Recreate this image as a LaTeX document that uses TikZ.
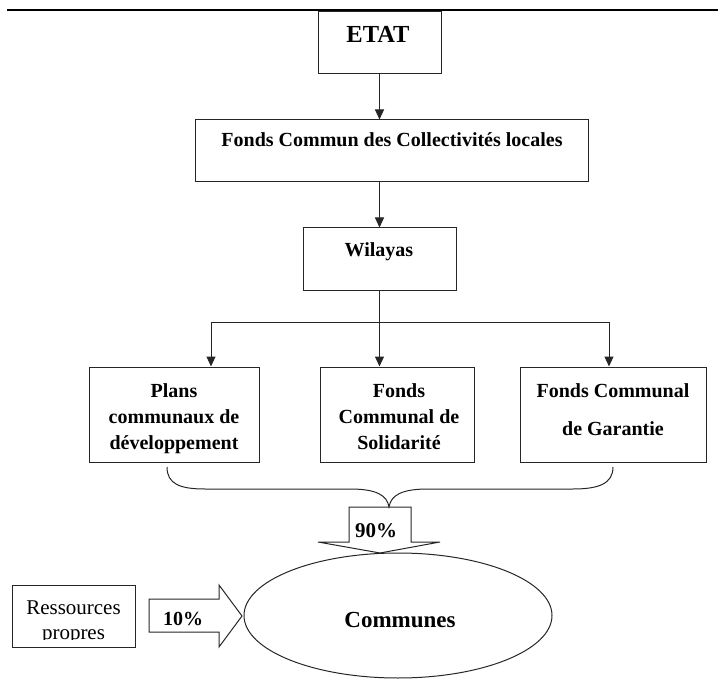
\documentclass[tikz,border=0pt]{standalone}
\usepackage{fontspec}
\setmainfont{Liberation Serif}
\usetikzlibrary{arrows.meta,calc,shapes.geometric}
\begin{document}
\begin{tikzpicture}[x=1pt,y=-1pt,
  box/.style={draw=black!85, line width=1pt, inner sep=0pt, rectangle},
  arr/.style={draw=black!85, line width=1pt, -{Triangle[width=9pt,length=10pt]}},
  plain/.style={draw=black!85, line width=1pt},
  lbl/.style={font=\fontsize{20}{26}\selectfont\bfseries, align=center, inner sep=0pt},
]
\useasboundingbox (0,0) rectangle (718,695);
\draw[line width=2pt] (7,10) coordinate (tl) -- (718,10) coordinate (tr);

% boxes
\node[box, minimum width=123pt, minimum height=62pt] (etat) at (379.5,43) {};
\node[box, minimum width=393pt, minimum height=62pt] (fccl) at (391.5,151) {};
\node[box, minimum width=153pt, minimum height=63pt] (wil) at (379.5,259.5) {};
\node[box, minimum width=170pt, minimum height=95pt] (plans) at (174,414.5) {};
\node[box, minimum width=154pt, minimum height=95pt] (fcs) at (397,414.5) {};
\node[box, minimum width=186pt, minimum height=95pt] (fcg) at (613,414.5) {};
\node[box, minimum width=123pt, minimum height=62pt] (res) at (73.5,616) {};
\node[draw=black!85, line width=1pt, ellipse, inner sep=0pt, minimum width=308pt, minimum height=125pt] (comm) at (398,615.5) {};

% texts
\node[lbl, font=\fontsize{24.5}{30}\selectfont\bfseries, anchor=base] (etatT) at (378,43) {ETAT};
\node[lbl, anchor=base] (fcclT) at (392,147) {Fonds Commun des Collectivités locales};
\node[lbl, anchor=base] (wilT) at (379,257) {Wilayas};
\node[lbl] (plansT) at (174,418.3) {Plans\\communaux de\\développement};
\node[lbl] (fcsT) at (399,416.2) {Fonds\\Communal de\\Solidarité};
\node[lbl, font=\fontsize{20}{38}\selectfont\bfseries] (fcgT) at (613,409.2) {Fonds Communal\\de Garantie};
\node[lbl, font=\fontsize{23}{28}\selectfont\bfseries, anchor=base] (commT) at (400,627) {Communes};
\begin{scope}
  \clip (12,586) rectangle (135,639);
  \node[lbl, font=\fontsize{21}{25}\selectfont] (resT) at (73.5,622.8) {Ressources\\propres};
\end{scope}

% connectors
\draw[arr] (etat.south) -- (etat.south |- fccl.north);
\draw[arr] (wil.north |- fccl.south) -- (wil.north);
\draw[arr] (wil.south) -- (wil.south |- fcs.north);
\coordinate (bl) at (211,322);
\coordinate (br) at (609,322);
\draw[plain] (bl) -- (br);
\draw[arr] (bl) -- (bl |- plans.north);
\draw[arr] (br) -- (br |- fcg.north);

% brace
\draw[plain] (167,467) .. controls (167,484) and (180,489) .. (205,489)
  -- (350,489) .. controls (376,489) and (387,495) .. (389,507)
  .. controls (391,495) and (402,489) .. (428,489)
  -- (573,489) .. controls (598,489) and (613,484) .. (613,467);

% 90% block arrow
\draw[plain, line join=miter] (349,507) -- (411,507) -- (411,542) -- (440,542) -- (380,553) -- (318,542) -- (349,542) -- cycle;
\node[lbl, font=\fontsize{21}{25}\selectfont\bfseries, anchor=base] (p90) at (376,537) {90\%};

% 10% block arrow
\draw[plain, line join=miter] (149,599) -- (219,599) -- (219,585) -- (242,616) -- (219,647) -- (219,632) -- (149,632) -- cycle;
\node[lbl, anchor=base] (p10) at (183,625) {10\%};
\end{tikzpicture}
\end{document}
